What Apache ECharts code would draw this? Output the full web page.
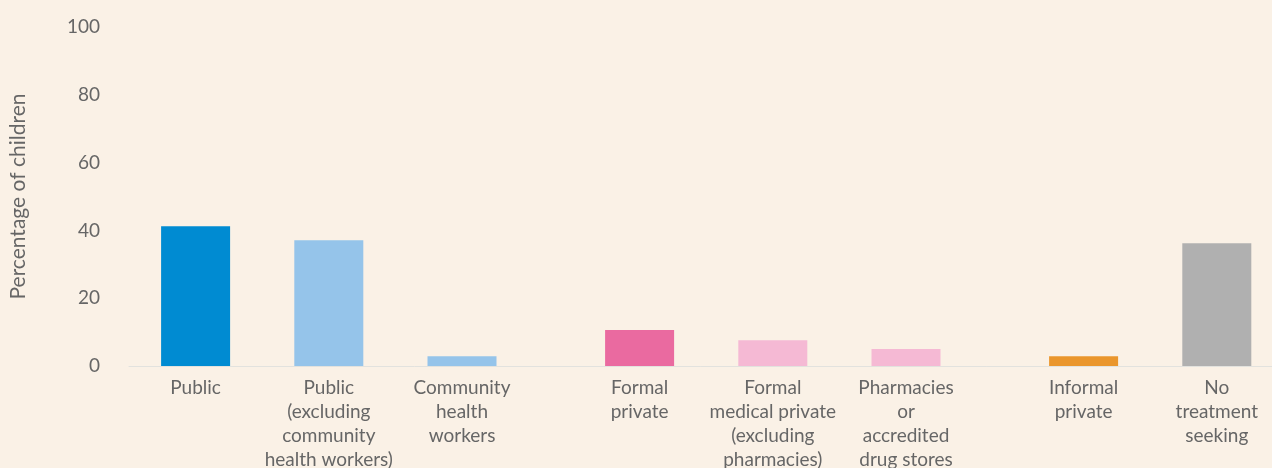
<!DOCTYPE html>
<html>
<head>
<meta charset="utf-8">
<script src="https://cdn.jsdelivr.net/npm/echarts@6/dist/echarts.min.js"></script>
<style>
  html, body { margin: 0; padding: 0; background: #faf1e6; }
  #chart { width: 1272px; height: 468px; }
</style>
</head>
<body>
<div id="chart"></div>
<script>
// data
const categories = [
  'Public',
  'Public\n(excluding\ncommunity\nhealth workers)',
  'Community\nhealth\nworkers',
  'Formal\nprivate',
  'Formal\nmedical private\n(excluding\npharmacies)',
  'Pharmacies\nor\naccredited\ndrug stores',
  'Informal\nprivate',
  'No\ntreatment\nseeking'
];
const values = [41.2, 37.1, 2.9, 10.6, 7.6, 5.0, 2.9, 36.2];
const groupSizes = [3, 3, 2];
const yTicks = [0, 20, 40, 60, 80, 100];

const colors = ['#008bd2', '#95c4ea', '#95c4ea', '#ea6aa0', '#f5b9d4', '#f5b9d4', '#ea962c', '#b0b0b0'];

// spread the bars over narrow slots so groups get a wider gap
const slots = [''];
const slotData = [null];
let k = 0;
groupSizes.forEach((n, g) => {
  if (g > 0) { slots.push(''); slotData.push(null); }
  for (let i = 0; i < n; i++, k++) {
    slots.push(categories[k]);
    slotData.push({ value: values[k], itemStyle: { color: colors[k] } });
    slots.push('', '');
    slotData.push(null, null);
  }
});
slots.pop(); slotData.pop();

const chart = echarts.init(document.getElementById('chart'));
chart.setOption({
  backgroundColor: '#faf1e6',
  animation: false,
  textStyle: { fontFamily: 'Lato' },
  grid: {
    left: 129, top: 27, width: slots.length * 44.4, height: 339,
    outerBoundsMode: 'none', containLabel: false
  },
  xAxis: {
    type: 'category',
    data: slots,
    axisLine: { lineStyle: { color: '#e2e2de', width: 1 } },
    axisTick: { show: false },
    axisLabel: {
      interval: 0,
      margin: 10,
      color: '#666',
      fontSize: 19,
      lineHeight: 24,
      align: 'center'
    }
  },
  yAxis: {
    type: 'value',
    min: yTicks[0],
    max: yTicks[yTicks.length - 1],
    interval: 20,
    name: 'Percentage of children',
    nameLocation: 'middle',
    nameGap: 100,
    nameTextStyle: { color: '#666', fontSize: 21 },
    axisLine: { show: false },
    axisTick: { show: false },
    splitLine: { show: false },
    axisLabel: { color: '#666', fontSize: 19, margin: 29 }
  },
  series: [{
    type: 'bar',
    data: slotData,
    barWidth: 69
  }]
});
</script>
</body>
</html>
